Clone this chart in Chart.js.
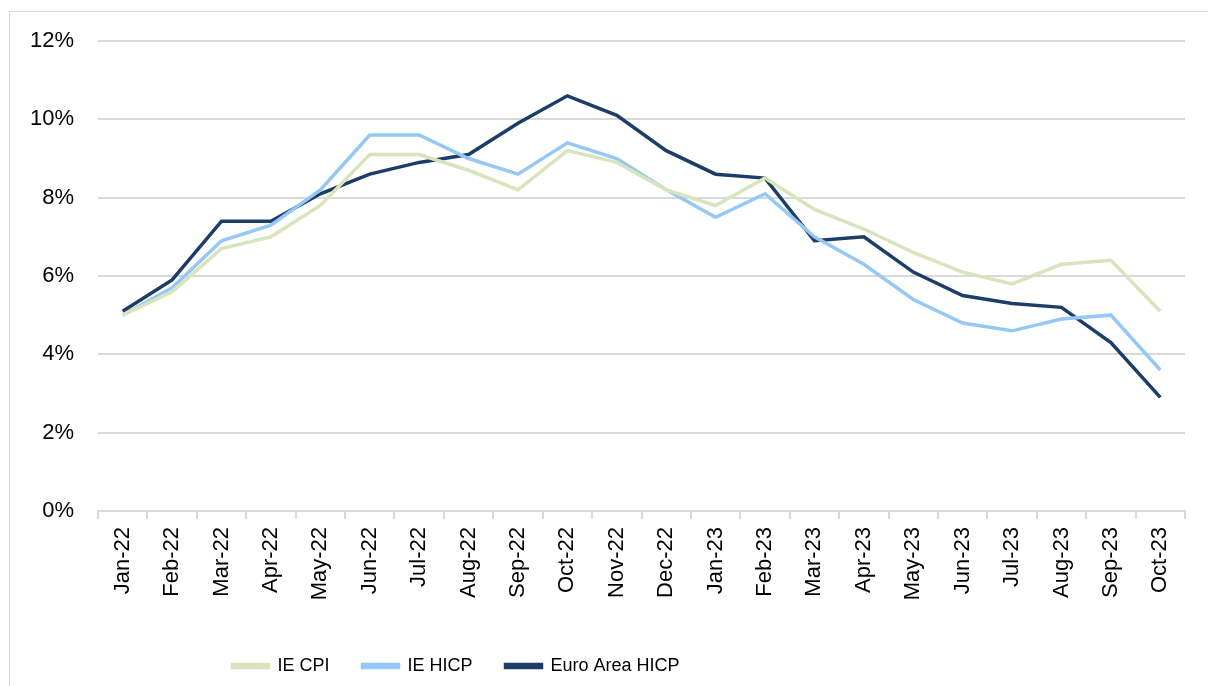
<!DOCTYPE html>
<html>
<head>
<meta charset="utf-8">
<script src="https://cdn.jsdelivr.net/npm/chart.js@4.4.0/dist/chart.umd.min.js"></script>
<style>
  body { margin: 0; background: #fff; }
  #wrap { position: relative; width: 1208px; height: 686px; overflow: hidden; }
  #frame { position: absolute; left: 9px; top: 11px; width: 1230px; height: 700px; border: 1.5px solid #d9d9d9; pointer-events: none; }
</style>
</head>
<body>
<div id="wrap">
  <canvas id="myChart"></canvas>
  <div id="frame"></div>
</div>
<script>
const months = [
  "Jan-22", "Feb-22", "Mar-22", "Apr-22", "May-22", "Jun-22", "Jul-22", "Aug-22",
  "Sep-22", "Oct-22", "Nov-22", "Dec-22", "Jan-23", "Feb-23", "Mar-23", "Apr-23",
  "May-23", "Jun-23", "Jul-23", "Aug-23", "Sep-23", "Oct-23",
];
const ieCpi = [5.0, 5.6, 6.7, 7.0, 7.8, 9.1, 9.1, 8.7, 8.2, 9.2, 8.9, 8.2, 7.8, 8.5, 7.7, 7.2, 6.6, 6.1, 5.8, 6.3, 6.4, 5.1];
const ieHicp = [5.0, 5.7, 6.9, 7.3, 8.2, 9.6, 9.6, 9.0, 8.6, 9.4, 9.0, 8.2, 7.5, 8.1, 7.0, 6.3, 5.4, 4.8, 4.6, 4.9, 5.0, 3.6];
const euroHicp = [5.1, 5.9, 7.4, 7.4, 8.1, 8.6, 8.9, 9.1, 9.9, 10.6, 10.1, 9.2, 8.6, 8.5, 6.9, 7.0, 6.1, 5.5, 5.3, 5.2, 4.3, 2.9];

const gridGrey = "#d9d9d9";
const axisFont = { family: "'Liberation Sans', sans-serif", size: 22 };
const legendFont = { family: "'Liberation Sans', sans-serif", size: 18 };

// Excel puts the legend left of centre
const legendShift = {
  id: "legendShift",
  afterLayout(chart) {
    const lg = chart.legend;
    lg.right = 2 * 456 - lg.left;
    lg.width = lg.right - lg.left;
  },
};

const ctx = document.getElementById("myChart");
ctx.width = 1208;
ctx.height = 686;

new Chart(ctx, {
  type: "line",
  data: {
    labels: months,
    datasets: [
      {
        label: "IE CPI",
        data: ieCpi,
        borderColor: "#d8e4bc",
        backgroundColor: "#d8e4bc",
        borderWidth: 3.5,
      },
      {
        label: "IE HICP",
        data: ieHicp,
        borderColor: "#95c8f5",
        backgroundColor: "#95c8f5",
        borderWidth: 3.5,
      },
      {
        label: "Euro Area HICP",
        data: euroHicp,
        borderColor: "#1b3d68",
        backgroundColor: "#1b3d68",
        borderWidth: 3.5,
      },
    ],
  },
  plugins: [legendShift],
  options: {
    responsive: false,
    animation: false,
    elements: {
      point: { radius: 0 },
      line: { tension: 0 },
    },
    layout: {
      padding: { left: 20, right: 23, top: 41, bottom: 1 },
    },
    plugins: {
      legend: {
        position: "bottom",
        labels: {
          font: legendFont,
          color: "#000",
          boxWidth: 36,
          boxHeight: 3,
          padding: 33,
        },
      },
      tooltip: { enabled: false },
    },
    scales: {
      y: {
        min: 0,
        max: 12,
        ticks: {
          stepSize: 2,
          font: axisFont,
          color: "#000",
          padding: 24,
          callback: (v) => v + "%",
        },
        grid: {
          color: gridGrey,
          lineWidth: 2,
          drawTicks: false,
        },
        border: { display: false },
        afterFit: (scale) => {
          scale.width = 78;
        },
      },
      x: {
        offset: true,
        ticks: {
          font: axisFont,
          color: "#000",
          minRotation: 90,
          maxRotation: 90,
          padding: 8,
          autoSkip: false,
        },
        grid: {
          offset: true,
          drawOnChartArea: false,
          drawTicks: true,
          tickLength: 8,
          color: gridGrey,
          lineWidth: 2,
        },
        border: { color: gridGrey, width: 2 },
        afterFit: (scale) => {
          scale.height = 113;
        },
      },
    },
  },
});
</script>
</body>
</html>
